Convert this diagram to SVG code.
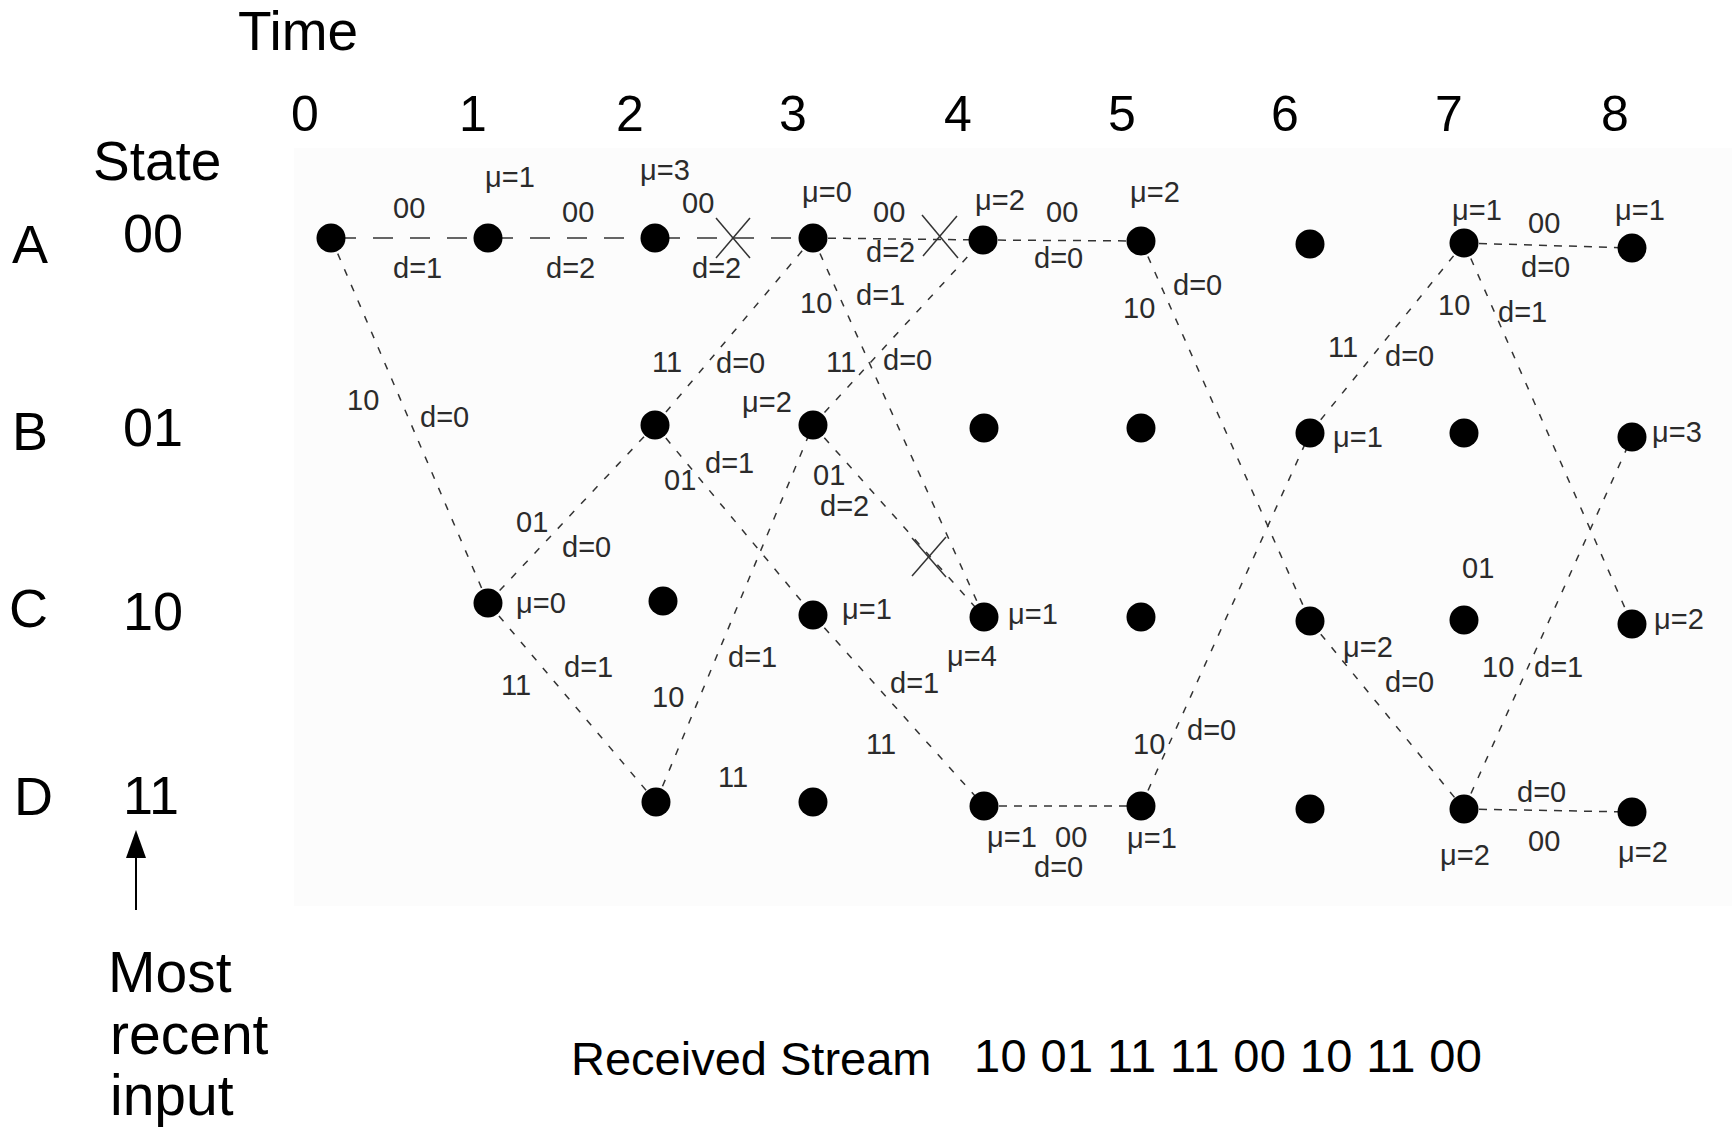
<svg xmlns="http://www.w3.org/2000/svg" width="1732" height="1134" viewBox="0 0 1732 1134">
  <style>
    text { font-family: "Liberation Sans", Arial, sans-serif; }
    .big { font-size: 54px; fill: #000; }
    .note { font-size: 57px; fill: #000; }
    .tick { font-size: 50px; fill: #000; text-anchor: middle; }
    .lbl { font-size: 29px; fill: #2b2b2b; }
    .node { fill: #000; }
    .edge { stroke: #333; stroke-width: 1.5; fill: none; stroke-dasharray: 7 10; }
    .long { stroke-dasharray: 20 17; }
    .short { stroke-dasharray: 8 7; }
    .cut { stroke: #333; stroke-width: 1.5; fill: none; }
  </style>

  <rect width="1732" height="1134" fill="#fff"/>
  <!-- trellis backdrop -->
  <rect x="294" y="148" width="1438" height="758" fill="#fcfcfc"/>

  <!-- axis titles and time ticks -->
  <g id="axis">
    <text class="big" x="238" y="50" style="font-size:55px">Time</text>
    <text class="tick" x="305" y="131">0</text>
    <text class="tick" x="473" y="131">1</text>
    <text class="tick" x="630" y="131">2</text>
    <text class="tick" x="793" y="131">3</text>
    <text class="tick" x="958" y="131">4</text>
    <text class="tick" x="1122" y="131">5</text>
    <text class="tick" x="1285" y="131">6</text>
    <text class="tick" x="1449" y="131">7</text>
    <text class="tick" x="1615" y="131">8</text>
    <text class="big" x="93" y="180" style="font-size:55px">State</text>
  </g>

  <!-- state names and codes -->
  <g id="states">
    <text class="big" x="12" y="263">A</text>
    <text class="big" x="153" y="252" text-anchor="middle">00</text>
    <text class="big" x="12" y="450">B</text>
    <text class="big" x="153" y="446" text-anchor="middle">01</text>
    <text class="big" x="9" y="627">C</text>
    <text class="big" x="153" y="630" text-anchor="middle">10</text>
    <text class="big" x="14" y="815">D</text>
    <text class="big" x="151" y="814" text-anchor="middle">11</text>
  </g>

  <!-- note on the newest input bit -->
  <g id="note">
    <line x1="136" y1="910" x2="136" y2="852" stroke="#000" stroke-width="2"/>
    <polygon points="136,830 146,858 126,858" fill="#000"/>
    <text class="note" x="108" y="992">Most</text>
    <text class="note" x="110" y="1054">recent</text>
    <text class="note" x="110" y="1115">input</text>
  </g>

  <!-- received sequence -->
  <g id="stream">
    <text class="big" x="571" y="1075" style="font-size:47px">Received Stream</text>
    <text class="big" x="974" y="1072" style="font-size:47px;letter-spacing:0.4px" xml:space="preserve">10 01 11 11 00 10 11 00</text>
  </g>

  <!-- branches -->
  <g id="connectors">
    <g id="e-A0-A1">
      <line class="edge long" x1="336" y1="238" x2="488" y2="238"/>
      <text class="lbl" x="393" y="218">00</text>
      <text class="lbl" x="393" y="278">d=1</text>
    </g>
    <g id="e-A1-A2">
      <line class="edge long" x1="493" y1="238" x2="655" y2="238"/>
      <text class="lbl" x="562" y="222">00</text>
      <text class="lbl" x="546" y="278">d=2</text>
    </g>
    <g id="e-A2-A3">
      <line class="edge long" x1="660" y1="238" x2="813" y2="238"/>
      <text class="lbl" x="682" y="213">00</text>
      <text class="lbl" x="692" y="278">d=2</text>
      <line class="cut" x1="716" y1="218" x2="750" y2="258"/>
      <line class="cut" x1="750" y1="218" x2="716" y2="258"/>
    </g>
    <g id="e-A3-A4">
      <line class="edge short" x1="813" y1="238" x2="983" y2="240"/>
      <text class="lbl" x="873" y="222">00</text>
      <text class="lbl" x="866" y="262">d=2</text>
      <line class="cut" x1="922" y1="215" x2="958" y2="258"/>
      <line class="cut" x1="957" y1="216" x2="923" y2="256"/>
    </g>
    <g id="e-A4-A5">
      <line class="edge short" x1="983" y1="240" x2="1141" y2="241"/>
      <text class="lbl" x="1046" y="222">00</text>
      <text class="lbl" x="1034" y="268">d=0</text>
    </g>
    <g id="e-A7-A8">
      <line class="edge short" x1="1464" y1="243" x2="1632" y2="248"/>
      <text class="lbl" x="1528" y="233">00</text>
      <text class="lbl" x="1521" y="277">d=0</text>
    </g>
    <g id="e-D4-D5">
      <line class="edge short" x1="984" y1="806" x2="1141" y2="806"/>
      <text class="lbl" x="1055" y="847">00</text>
      <text class="lbl" x="1034" y="877">d=0</text>
    </g>
    <g id="e-D7-D8">
      <line class="edge short" x1="1464" y1="809" x2="1632" y2="812"/>
      <text class="lbl" x="1517" y="802">d=0</text>
      <text class="lbl" x="1528" y="851">00</text>
    </g>

    <g id="e-A0-C1">
      <line class="edge" x1="331" y1="238" x2="488" y2="603"/>
      <text class="lbl" x="347" y="410">10</text>
      <text class="lbl" x="420" y="427">d=0</text>
    </g>
    <g id="e-C1-B2">
      <line class="edge" x1="488" y1="603" x2="655" y2="425"/>
      <text class="lbl" x="516" y="532">01</text>
      <text class="lbl" x="562" y="557">d=0</text>
    </g>
    <g id="e-C1-D2">
      <line class="edge" x1="488" y1="603" x2="656" y2="802"/>
      <text class="lbl" x="501" y="695">11</text>
      <text class="lbl" x="564" y="677">d=1</text>
    </g>
    <g id="e-B2-A3">
      <line class="edge" x1="655" y1="425" x2="813" y2="238"/>
      <text class="lbl" x="652" y="372">11</text>
      <text class="lbl" x="716" y="373">d=0</text>
    </g>
    <g id="e-B2-C3">
      <line class="edge" x1="655" y1="425" x2="813" y2="615"/>
      <text class="lbl" x="664" y="490">01</text>
      <text class="lbl" x="705" y="473">d=1</text>
    </g>
    <g id="e-D2-B3">
      <line class="edge" x1="656" y1="802" x2="813" y2="425"/>
      <text class="lbl" x="652" y="707">10</text>
      <text class="lbl" x="728" y="667">d=1</text>
    </g>
    <g id="e-A3-C4">
      <line class="edge" x1="813" y1="238" x2="984" y2="617"/>
      <text class="lbl" x="800" y="313">10</text>
      <text class="lbl" x="856" y="305">d=1</text>
    </g>
    <g id="e-B3-A4">
      <line class="edge" x1="813" y1="425" x2="983" y2="240"/>
      <text class="lbl" x="826" y="372">11</text>
      <text class="lbl" x="883" y="370">d=0</text>
    </g>
    <g id="e-B3-C4">
      <line class="edge" x1="813" y1="425" x2="984" y2="617"/>
      <text class="lbl" x="813" y="485">01</text>
      <text class="lbl" x="820" y="516">d=2</text>
      <line class="cut" x1="912" y1="576" x2="946" y2="537"/>
      <line class="cut" x1="912" y1="538" x2="946" y2="577"/>
    </g>
    <g id="e-C3-D4">
      <line class="edge" x1="813" y1="615" x2="984" y2="806"/>
      <text class="lbl" x="890" y="693">d=1</text>
      <text class="lbl" x="866" y="754">11</text>
    </g>
    <g id="e-A5-C6">
      <line class="edge" x1="1141" y1="241" x2="1310" y2="621"/>
      <text class="lbl" x="1123" y="318">10</text>
      <text class="lbl" x="1173" y="295">d=0</text>
    </g>
    <g id="e-D5-B6">
      <line class="edge" x1="1141" y1="806" x2="1310" y2="433"/>
      <text class="lbl" x="1133" y="754">10</text>
      <text class="lbl" x="1187" y="740">d=0</text>
    </g>
    <g id="e-B6-A7">
      <line class="edge" x1="1310" y1="433" x2="1464" y2="243"/>
      <text class="lbl" x="1328" y="357">11</text>
      <text class="lbl" x="1385" y="366">d=0</text>
    </g>
    <g id="e-C6-D7">
      <line class="edge" x1="1310" y1="621" x2="1464" y2="809"/>
      <text class="lbl" x="1385" y="692">d=0</text>
    </g>
    <g id="e-A7-C8">
      <line class="edge" x1="1464" y1="243" x2="1632" y2="624"/>
      <text class="lbl" x="1438" y="315">10</text>
      <text class="lbl" x="1498" y="322">d=1</text>
    </g>
    <g id="e-D7-B8">
      <line class="edge" x1="1464" y1="809" x2="1632" y2="437"/>
      <text class="lbl" x="1482" y="677">10</text>
      <text class="lbl" x="1534" y="677">d=1</text>
    </g>
  </g>

  <!-- loose branch words -->
  <g id="free-labels">
    <text class="lbl" x="718" y="787">11</text>
    <text class="lbl" x="1462" y="578">01</text>
    <text class="lbl" x="947" y="666">μ=4</text>
  </g>

  <!-- trellis states over time -->
  <g id="n-A0"><circle class="node" cx="331" cy="238" r="14.5"/></g>
  <g id="n-A1"><circle class="node" cx="488" cy="238" r="14.5"/><text class="lbl" x="485" y="187">μ=1</text></g>
  <g id="n-A2"><circle class="node" cx="655" cy="238" r="14.5"/><text class="lbl" x="640" y="180">μ=3</text></g>
  <g id="n-A3"><circle class="node" cx="813" cy="238" r="14.5"/><text class="lbl" x="802" y="202">μ=0</text></g>
  <g id="n-A4"><circle class="node" cx="983" cy="240" r="14.5"/><text class="lbl" x="975" y="210">μ=2</text></g>
  <g id="n-A5"><circle class="node" cx="1141" cy="241" r="14.5"/><text class="lbl" x="1130" y="202">μ=2</text></g>
  <g id="n-A6"><circle class="node" cx="1310" cy="244" r="14.5"/></g>
  <g id="n-A7"><circle class="node" cx="1464" cy="243" r="14.5"/><text class="lbl" x="1452" y="220">μ=1</text></g>
  <g id="n-A8"><circle class="node" cx="1632" cy="248" r="14.5"/><text class="lbl" x="1615" y="220">μ=1</text></g>

  <g id="n-B2"><circle class="node" cx="655" cy="425" r="14.5"/></g>
  <g id="n-B3"><circle class="node" cx="813" cy="425" r="14.5"/><text class="lbl" x="742" y="412">μ=2</text></g>
  <g id="n-B4"><circle class="node" cx="984" cy="428" r="14.5"/></g>
  <g id="n-B5"><circle class="node" cx="1141" cy="428" r="14.5"/></g>
  <g id="n-B6"><circle class="node" cx="1310" cy="433" r="14.5"/><text class="lbl" x="1333" y="447">μ=1</text></g>
  <g id="n-B7"><circle class="node" cx="1464" cy="433" r="14.5"/></g>
  <g id="n-B8"><circle class="node" cx="1632" cy="437" r="14.5"/><text class="lbl" x="1652" y="442">μ=3</text></g>

  <g id="n-C1"><circle class="node" cx="488" cy="603" r="14.5"/><text class="lbl" x="516" y="613">μ=0</text></g>
  <g id="n-C2"><circle class="node" cx="663" cy="601" r="14.5"/></g>
  <g id="n-C3"><circle class="node" cx="813" cy="615" r="14.5"/><text class="lbl" x="842" y="619">μ=1</text></g>
  <g id="n-C4"><circle class="node" cx="984" cy="617" r="14.5"/><text class="lbl" x="1008" y="624">μ=1</text></g>
  <g id="n-C5"><circle class="node" cx="1141" cy="617" r="14.5"/></g>
  <g id="n-C6"><circle class="node" cx="1310" cy="621" r="14.5"/><text class="lbl" x="1343" y="657">μ=2</text></g>
  <g id="n-C7"><circle class="node" cx="1464" cy="620" r="14.5"/></g>
  <g id="n-C8"><circle class="node" cx="1632" cy="624" r="14.5"/><text class="lbl" x="1654" y="629">μ=2</text></g>

  <g id="n-D2"><circle class="node" cx="656" cy="802" r="14.5"/></g>
  <g id="n-D3"><circle class="node" cx="813" cy="802" r="14.5"/></g>
  <g id="n-D4"><circle class="node" cx="984" cy="806" r="14.5"/><text class="lbl" x="987" y="847">μ=1</text></g>
  <g id="n-D5"><circle class="node" cx="1141" cy="806" r="14.5"/><text class="lbl" x="1127" y="848">μ=1</text></g>
  <g id="n-D6"><circle class="node" cx="1310" cy="809" r="14.5"/></g>
  <g id="n-D7"><circle class="node" cx="1464" cy="809" r="14.5"/><text class="lbl" x="1440" y="865">μ=2</text></g>
  <g id="n-D8"><circle class="node" cx="1632" cy="812" r="14.5"/><text class="lbl" x="1618" y="862">μ=2</text></g>
</svg>
